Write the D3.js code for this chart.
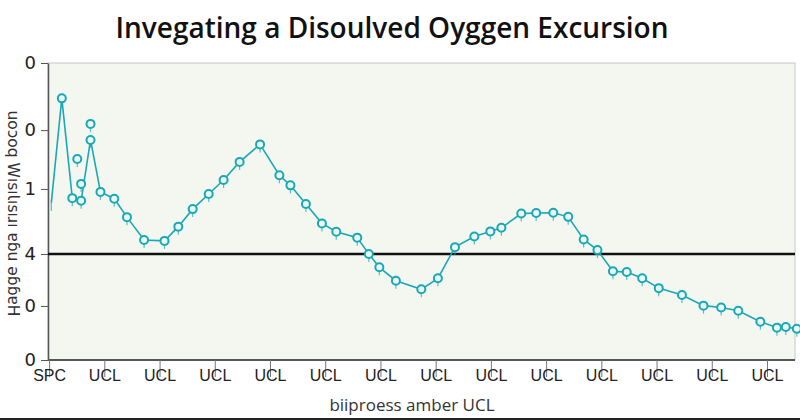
<!DOCTYPE html>
<html>
<head>
<meta charset="utf-8">
<script src="https://cdn.jsdelivr.net/npm/d3@7"></script>
<style>
  body { margin: 0; background: #fff; }
  svg { display: block; }
</style>
</head>
<body>
<div id="chart"></div>
<script>
// tick labels
var xTickLabels = ["SPC", "UCL", "UCL", "UCL", "UCL", "UCL", "UCL", "UCL", "UCL", "UCL", "UCL", "UCL", "UCL", "UCL"];
var yTickValues = [0, 1.82, 3.57, 5.76, 7.74, 10];
var yTickLabels = ["0", "0", "4", "1", "0", "0"];
var refLevel = 3.57;

// main series (x = position along the tick index, y = reading)
var seriesX = [0.04, 0.23, 0.42, 0.58, 0.75, 0.93, 1.18, 1.41, 1.72, 2.09, 2.34, 2.60, 2.89, 3.16, 3.45, 3.82,
  4.17, 4.37, 4.65, 4.94, 5.20, 5.58, 5.79, 5.98, 6.28, 6.74, 7.04, 7.35, 7.70, 7.99, 8.19, 8.55, 8.82,
  9.13, 9.40, 9.68, 9.93, 10.21, 10.46, 10.74, 11.04, 11.46, 11.85, 12.17, 12.48, 12.88, 13.18, 13.34, 13.54];
var seriesY = [5.29, 8.81, 5.45, 5.36, 7.41, 5.66, 5.43, 4.81, 4.04, 4.01, 4.49, 5.08, 5.59, 6.06, 6.67, 7.26,
  6.22, 5.88, 5.25, 4.60, 4.32, 4.12, 3.57, 3.12, 2.67, 2.38, 2.75, 3.80, 4.16, 4.33, 4.45, 4.93, 4.95,
  4.96, 4.82, 4.06, 3.70, 2.99, 2.96, 2.75, 2.42, 2.19, 1.83, 1.77, 1.66, 1.29, 1.09, 1.11, 1.05];

// loose markers off the line
var extraX = [0.51, 0.58, 0.75];
var extraY = [6.77, 5.93, 7.95];

var W = 800, H = 420;
var margin = {top: 63, right: 5, bottom: 60, left: 48};
var width = W - margin.left - margin.right,
    height = H - margin.top - margin.bottom;

var svg = d3.select("#chart").append("svg")
  .attr("width", W).attr("height", H);

// title
svg.append("text")
  .attr("x", 392).attr("y", 38)
  .attr("text-anchor", "middle")
  .style("font-family", "'Open Sans', sans-serif")
  .style("font-size", "28px")
  .style("font-weight", "600")
  .style("fill", "#111")
  .text("Invegating a Disoulved Oyggen Excursion");

var g = svg.append("g")
  .attr("transform", "translate(" + margin.left + "," + margin.top + ")");

// plot background
g.append("rect")
  .attr("width", width).attr("height", height)
  .attr("fill", "#f4f7ef")
  .attr("stroke", "#c8c8c8");

var x = d3.scaleLinear().domain([-0.02, 13]).range([0, 719]);
var y = d3.scaleLinear().domain([0, 10]).range([height, 0]);

// x axis
var xAxis = g.append("g")
  .attr("transform", "translate(0," + height + ")")
  .call(d3.axisBottom(x)
    .tickValues(d3.range(xTickLabels.length))
    .tickFormat(function(d, i) { return xTickLabels[i]; })
    .tickSize(17).tickSizeOuter(0));
xAxis.select(".domain").attr("stroke", "#555").attr("stroke-width", 2)
  .attr("d", "M0,0H" + width);
xAxis.selectAll(".tick line").attr("stroke", "#777");
xAxis.selectAll(".tick text")
  .attr("y", 10).attr("dy", "0.71em")
  .style("font-family", "'Liberation Sans', Arial, sans-serif")
  .style("font-size", "16px")
  .style("fill", "#222");

// y axis
var yAxis = g.append("g")
  .call(d3.axisLeft(y)
    .tickValues(yTickValues)
    .tickFormat(function(d, i) { return yTickLabels[i]; })
    .tickSize(7).tickSizeOuter(0));
yAxis.select(".domain").attr("stroke", "#555").attr("stroke-width", 1.5);
yAxis.selectAll(".tick line").attr("stroke", "#555");
yAxis.selectAll(".tick text")
  .attr("x", -12)
  .style("font-family", "'DejaVu Sans', sans-serif")
  .style("font-size", "18px")
  .style("fill", "#222");

// axis titles
svg.append("text")
  .attr("x", 412).attr("y", 411)
  .attr("text-anchor", "middle")
  .style("font-family", "'Open Sans', sans-serif")
  .style("font-size", "17px")
  .style("fill", "#333")
  .text("biiproess amber UCL");

svg.append("text")
  .attr("transform", "translate(13," + (margin.top + height / 2 + 2) + ") rotate(90)")
  .attr("text-anchor", "middle")
  .attr("dy", "0.35em")
  .style("font-family", "'DejaVu Sans', sans-serif")
  .style("font-size", "15.5px")
  .style("fill", "#333")
  .text("uoɔoq WısıƖısıɹı ɐɓu ǝɓɓɐH");

// reference line
g.append("line")
  .attr("x1", 0).attr("x2", width)
  .attr("y1", y(refLevel)).attr("y2", y(refLevel))
  .attr("stroke", "#111").attr("stroke-width", 2.5);

var teal = "#1ba8b6";
var pts = seriesX.map(function(d, i) { return [d, seriesY[i]]; });

g.append("path")
  .datum(pts)
  .attr("fill", "none")
  .attr("stroke", teal)
  .attr("stroke-width", 1.6)
  .attr("d", d3.line().x(function(d) { return x(d[0]); }).y(function(d) { return y(d[1]); }));

var allPts = pts.concat(extraX.map(function(d, i) { return [d, extraY[i]]; }));

// small whiskers under the markers
g.append("g").selectAll("line")
  .data(allPts)
  .enter().append("line")
  .attr("x1", function(d) { return x(d[0]); })
  .attr("x2", function(d) { return x(d[0]); })
  .attr("y1", function(d) { return y(d[1]); })
  .attr("y2", function(d) { return y(d[1]) + 8; })
  .attr("stroke", teal)
  .attr("stroke-width", 1.2)
  .attr("opacity", 0.7);

g.append("g").selectAll("circle")
  .data(allPts.slice(1))
  .enter().append("circle")
  .attr("cx", function(d) { return x(d[0]); })
  .attr("cy", function(d) { return y(d[1]); })
  .attr("r", 4)
  .attr("fill", "#eafafa")
  .attr("stroke", teal)
  .attr("stroke-width", 2);

// bottom border strip
svg.append("line")
  .attr("x1", 0).attr("x2", W).attr("y1", 419).attr("y2", 419)
  .attr("stroke", "#222").attr("stroke-width", 2);
</script>
</body>
</html>
